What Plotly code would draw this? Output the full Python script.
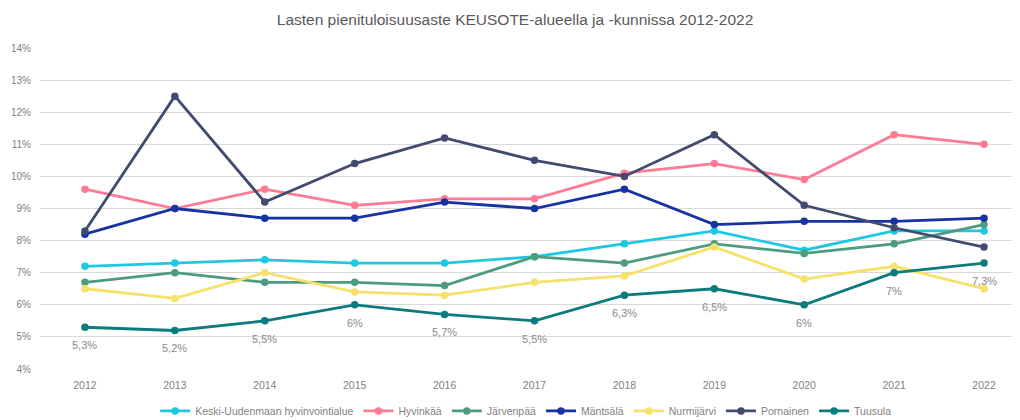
import plotly.graph_objects as go

years = [2012, 2013, 2014, 2015, 2016, 2017, 2018, 2019, 2020, 2021, 2022]
keski = [7.2, 7.3, 7.4, 7.3, 7.3, 7.5, 7.9, 8.3, 7.7, 8.3, 8.3]
hyvinkaa = [9.6, 9.0, 9.6, 9.1, 9.3, 9.3, 10.1, 10.4, 9.9, 11.3, 11.0]
jarvenpaa = [6.7, 7.0, 6.7, 6.7, 6.6, 7.5, 7.3, 7.9, 7.6, 7.9, 8.5]
mantsala = [8.2, 9.0, 8.7, 8.7, 9.2, 9.0, 9.6, 8.5, 8.6, 8.6, 8.7]
nurmijarvi = [6.5, 6.2, 7.0, 6.4, 6.3, 6.7, 6.9, 7.8, 6.8, 7.2, 6.5]
pornainen = [8.3, 12.5, 9.2, 10.4, 11.2, 10.5, 10.0, 11.3, 9.1, 8.4, 7.8]
tuusula = [5.3, 5.2, 5.5, 6.0, 5.7, 5.5, 6.3, 6.5, 6.0, 7.0, 7.3]

series = [
    ("Keski-Uudenmaan hyvinvointialue", keski, "#1EC8E1"),
    ("Hyvinkää", hyvinkaa, "#FF7A95"),
    ("Järvenpää", jarvenpaa, "#4E9B80"),
    ("Mäntsälä", mantsala, "#1533A3"),
    ("Nurmijärvi", nurmijarvi, "#F6E26A"),
    ("Pornainen", pornainen, "#434A6F"),
    ("Tuusula", tuusula, "#0C7B7E"),
]

FONT = "Liberation Sans, Arial, sans-serif"

def fmt(v):
    s = ("%g" % v).replace(".", ",")
    return s + "%"

fig = go.Figure()
for name, vals, col in series:
    fig.add_trace(go.Scatter(x=years, y=vals, name=name, mode="lines+markers",
                             line=dict(color=col, width=2.8),
                             marker=dict(color=col, size=7.5)))

for x, v in zip(years, tuusula):
    fig.add_annotation(x=x, y=v, text=fmt(v), showarrow=False, yshift=-18,
                       font=dict(color="#8A8A8A", size=11, family=FONT))

fig.update_layout(
    width=1012, height=412,
    margin=dict(l=32, r=0, t=40, b=51),
    paper_bgcolor="white", plot_bgcolor="white",
    font=dict(family=FONT, color="#7F7F7F", size=11),
    title=dict(text="Lasten pienituloisuusaste KEUSOTE-alueella ja -kunnissa 2012-2022",
               xref="container", x=0.501, xanchor="center", y=0.971, yanchor="middle",
               font=dict(size=15.5, color="#595959", family=FONT)),
    xaxis=dict(range=[2011.5, 2022.4], tickvals=years, ticktext=[str(y) for y in years],
               showgrid=False, zeroline=False, showline=False, ticks="",
               ticklabelstandoff=8,
               automargin=False, tickfont=dict(size=10.5, color="#7F7F7F")),
    yaxis=dict(range=[4, 14], dtick=1, ticksuffix="%", showgrid=True,
               gridcolor="#D9D9D9", gridwidth=1, zeroline=False, showline=False,
               ticklabelstandoff=8,
               automargin=False, tickfont=dict(size=10, color="#7F7F7F")),
    legend=dict(orientation="h", xref="container", x=0.512, xanchor="center",
                yref="container", y=0.022, yanchor="middle",
                font=dict(size=10.5, color="#7F7F7F"), tracegroupgap=0),
    showlegend=True,
)

fig.write_html("out.html")
